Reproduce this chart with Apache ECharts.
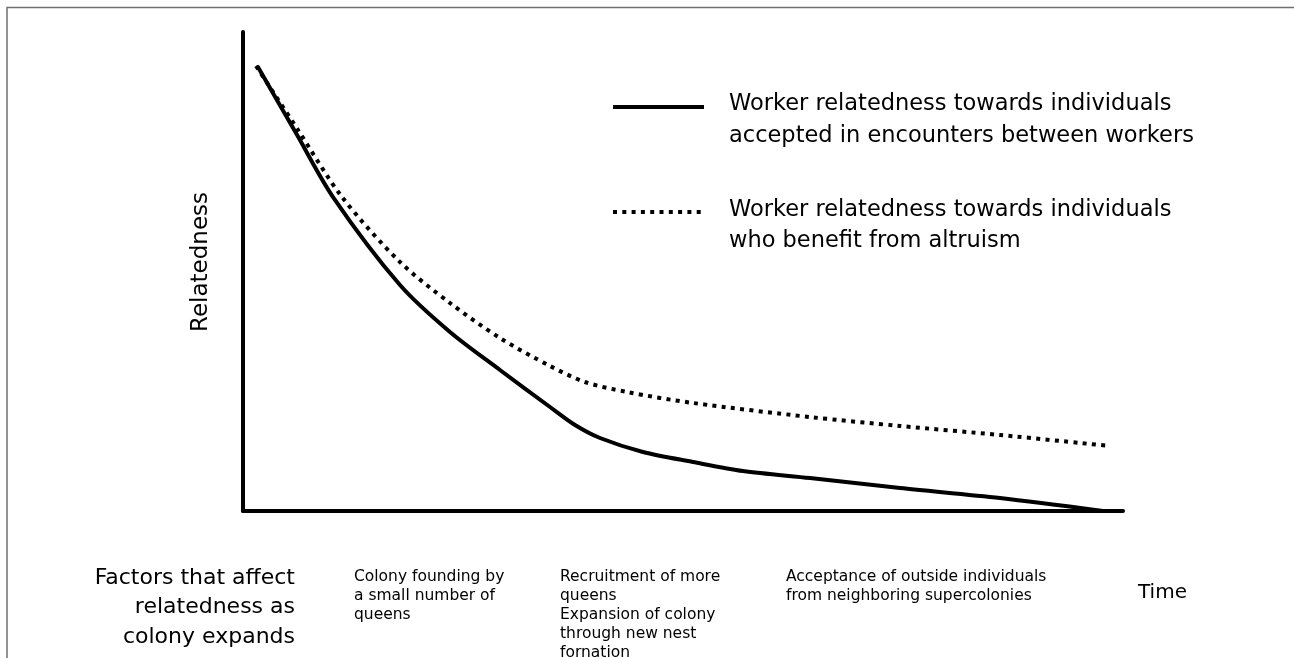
<!DOCTYPE html>
<html>
<head>
<meta charset="utf-8">
<script src="https://cdn.jsdelivr.net/npm/echarts@6/dist/echarts.min.js"></script>
<style>
html,body{margin:0;padding:0;background:#fff;}
#chart{width:1294px;height:658px;}
</style>
</head>
<body>
<div id="chart"></div>
<script>
// ---- data (time in % of axis length, relatedness in % of axis height) ----
const solidTime = [1.70, 6.02, 10.23, 17.84, 23.52, 29.20, 34.89, 37.73, 40.57, 45.45, 51.14, 56.82, 64.43, 74.66, 86.02, 97.73];
const solidRel  = [92.69, 78.91, 65.55, 47.18, 37.37, 29.44, 21.71, 17.95, 15.24, 12.32, 10.23, 8.35, 6.89, 4.80, 2.71, 0];
const dottedTime = [1.48, 6.25, 11.25, 17.84, 23.52, 29.20, 34.89, 38.86, 43.64, 51.14, 64.43, 74.66, 86.02, 98.52];
const dottedRel  = [92.90, 79.54, 65.55, 51.98, 43.42, 36.12, 30.27, 26.93, 24.84, 22.55, 19.62, 17.75, 15.87, 13.57];

const solidName = ["Worker relatedness towards individuals", "accepted in encounters between workers"];
const dottedName = ["Worker relatedness towards individuals", "who benefit from altruism"];
const yAxisName = "Relatedness";
const xAxisName = "Time";
const factorsTitle = ["Factors that affect", "relatedness as", "colony expands"];
const stage1 = ["Colony founding by", "a small number of", "queens"];
const stage2 = ["Recruitment of more", "queens", "Expansion of colony", "through new nest", "fornation"];
const stage3 = ["Acceptance of outside individuals", "from neighboring supercolonies"];

const FONT = '"DejaVu Sans", "Liberation Sans", Arial, sans-serif';

function zip(a, b) { return a.map((v, i) => [v, b[i]]); }

function textLines(lines, x, y0, step, size, align) {
  return lines.map((t, i) => ({
    type: 'text', x: x, y: y0 + i * step, silent: true,
    style: { text: t, fill: '#000', font: size + 'px ' + FONT, textAlign: align, textVerticalAlign: 'middle' }
  }));
}

const chart = echarts.init(document.getElementById('chart'));
const graphics = [
  // frame
  { type: 'polyline', silent: true, shape: { points: [[7, 658], [7, 7.5], [1294, 7.5]] },
    style: { stroke: '#707070', lineWidth: 1.5, fill: null } },
  // legend lines
  { type: 'line', silent: true, shape: { x1: 613, y1: 107, x2: 704, y2: 107 },
    style: { stroke: '#000', lineWidth: 4 } },
  { type: 'line', silent: true, shape: { x1: 613, y1: 212, x2: 704, y2: 212 },
    style: { stroke: '#000', lineWidth: 4, lineDash: [4, 5.3] } },
  // y axis name
  { type: 'text', silent: true, x: 201, y: 262, rotation: Math.PI / 2,
    style: { text: yAxisName, fill: '#000', font: '23px ' + FONT, textAlign: 'center', textVerticalAlign: 'middle' } },
  // x axis name
  { type: 'text', silent: true, x: 1138, y: 593,
    style: { text: xAxisName, fill: '#000', font: '20px ' + FONT, textAlign: 'left', textVerticalAlign: 'middle' } }
]
  .concat(textLines(solidName, 729, 104, 32.5, 22.5, 'left'))
  .concat(textLines(dottedName, 729, 210, 31.5, 22.5, 'left'))
  .concat(textLines(factorsTitle, 295, 578, 29.5, 22, 'right'))
  .concat(textLines(stage1, 354, 577, 19, 15.5, 'left'))
  .concat(textLines(stage2, 560, 577, 19, 15.5, 'left'))
  .concat(textLines(stage3, 786, 577, 19, 15.5, 'left'));

chart.setOption({
  animation: false,
  backgroundColor: '#fff',
  grid: { left: 243, right: 171, top: 32, bottom: 147, containLabel: false },
  xAxis: {
    type: 'value', min: 0, max: 100,
    axisLine: { show: true, onZero: false, lineStyle: { color: '#000', width: 4 } },
    axisTick: { show: false }, axisLabel: { show: false }, splitLine: { show: false }
  },
  yAxis: {
    type: 'value', min: 0, max: 100,
    axisLine: { show: true, onZero: false, lineStyle: { color: '#000', width: 4 } },
    axisTick: { show: false }, axisLabel: { show: false }, splitLine: { show: false }
  },
  series: [
    {
      name: solidName.join(' '), type: 'line', data: zip(solidTime, solidRel),
      symbol: 'none', smooth: 0.3, silent: true,
      lineStyle: { color: '#000', width: 4, cap: 'round', join: 'round' }
    },
    {
      name: dottedName.join(' '), type: 'line', data: zip(dottedTime, dottedRel),
      symbol: 'none', smooth: 0.3, silent: true,
      lineStyle: { color: '#000', width: 4, type: [4, 5.3], cap: 'butt' }
    }
  ],
  graphic: graphics
});
</script>
</body>
</html>
